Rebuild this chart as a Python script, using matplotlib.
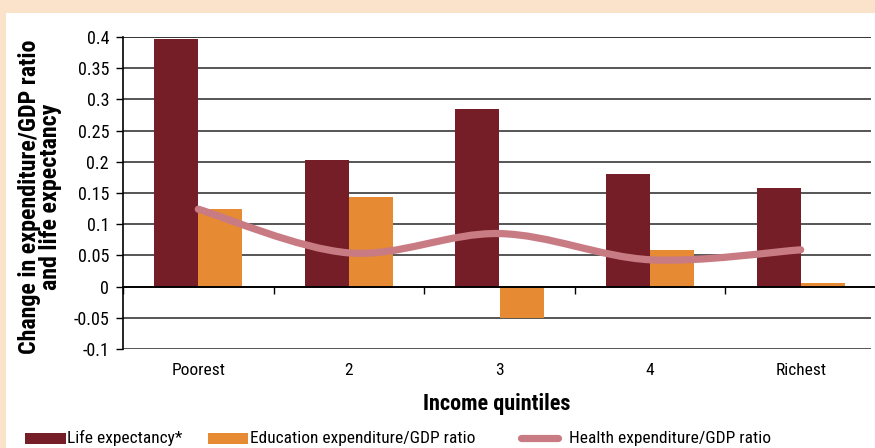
import matplotlib
matplotlib.use("Agg")
import matplotlib.pyplot as plt
import numpy as np
from matplotlib.patches import Rectangle, PathPatch
from matplotlib.path import Path
from matplotlib.lines import Line2D
from matplotlib import font_manager

# Data
categories = ["Poorest", "2", "3", "4", "Richest"]
life_expectancy = [0.397, 0.203, 0.284, 0.181, 0.158]
education_ratio = [0.125, 0.143, -0.051, 0.059, 0.005]
health_ratio = [0.124, 0.054, 0.085, 0.043, 0.059]
y_ticks = [0.4, 0.35, 0.3, 0.25, 0.2, 0.15, 0.1, 0.05, 0, -0.05, -0.1]
y_tick_labels = ["0.4", "0.35", "0.3", "0.25", "0.2", "0.15", "0.1", "0.05", "0", "-0.05", "-0.1"]
legend_labels = ["Life expectancy*", "Education expenditure/GDP ratio", "Health expenditure/GDP ratio"]

names = {f.name for f in font_manager.fontManager.ttflist}
fam = [n for n in ["Liberation Sans Narrow", "Roboto Condensed", "Liberation Sans", "DejaVu Sans"] if n in names]
plt.rcParams["font.family"] = fam

C_LIFE = "#761E28"
C_EDU = "#E68A33"
C_HEALTH = "#C97B84"
C_BG = "#FBE3CB"

W, H, DPI = 875, 448, 100
fig = plt.figure(figsize=(W / DPI, H / DPI), dpi=DPI, facecolor=C_BG)
fig.add_artist(Rectangle((6 / W, 0), 1, 1 - 13 / H, transform=fig.transFigure,
                         facecolor="white", edgecolor="none", zorder=0))

AX_L, AX_W = 123, 753
ax = fig.add_axes([AX_L / W, 1 - 349 / H, AX_W / W, (349 - 37) / H])
ax.set_facecolor("none")

x = np.arange(len(categories))
bw = 0.293
ax.bar(x - bw / 2, life_expectancy, bw, color=C_LIFE, zorder=3)
ax.bar(x + bw / 2, education_ratio, bw, color=C_EDU, zorder=3)

# Smoothed health line (Catmull-Rom style Bezier through the data points)
pts = np.column_stack([x, health_ratio]).astype(float)
verts = [tuple(pts[0])]
codes = [Path.MOVETO]
t = 1 / 6
for i in range(len(pts) - 1):
    p0 = pts[i - 1] if i > 0 else pts[i]
    p1, p2 = pts[i], pts[i + 1]
    p3 = pts[i + 2] if i + 2 < len(pts) else pts[i + 1]
    c1 = p1 + (p2 - p0) * t
    c2 = p2 - (p3 - p1) * t
    verts += [tuple(c1), tuple(c2), tuple(p2)]
    codes += [Path.CURVE4] * 3
ax.add_patch(PathPatch(Path(verts, codes), facecolor="none", edgecolor=C_HEALTH,
                       lw=5.2, capstyle="round", joinstyle="round", zorder=4))

ax.set_xlim(-0.5, len(categories) - 0.5)
ax.set_ylim(-0.1, 0.4)

# Gridlines
grid_end = (870 - AX_L) / AX_W
for yv in y_ticks:
    if yv == 0:
        continue
    ax.axhline(yv, xmax=grid_end, color="#333333" if yv == 0.4 else "#555555", lw=1.4, zorder=1)

for s in ["top", "right"]:
    ax.spines[s].set_visible(False)
ax.spines["left"].set_color("black")
ax.spines["left"].set_linewidth(1.2)
ax.spines["bottom"].set_position(("data", 0))
ax.spines["bottom"].set_color("black")
ax.spines["bottom"].set_linewidth(1.4)
ax.spines["bottom"].set_zorder(5)

ax.set_yticks(y_ticks)
ax.set_yticklabels(y_tick_labels)
ax.tick_params(axis="y", length=5, width=1, direction="out", labelsize=13, pad=5)

ax.set_xticks(x)
ax.set_xticklabels(categories)
ax.tick_params(axis="x", which="major", length=0, labelsize=12.5, pad=55)
ax.set_xticks(np.arange(len(categories)) - 0.5, minor=True)
ax.tick_params(axis="x", which="minor", length=5, width=1, direction="out")

fig.text(497 / W, 1 - 404 / H, "Income quintiles", ha="center", va="center",
         fontsize=16, fontweight="bold")
fig.text(40 / W, 1 - 197 / H, "Change in expenditure/GDP ratio\nand life expectancy",
         ha="center", va="center", rotation=90, fontsize=17.3, fontweight="bold",
         linespacing=0.88)

# Legend row
ly = 1 - 438 / H
fig.add_artist(Rectangle((25 / W, 1 - 444 / H), 41 / W, 11 / H, transform=fig.transFigure,
                         facecolor=C_LIFE, edgecolor="none"))
fig.add_artist(Rectangle((208 / W, 1 - 444 / H), 40 / W, 11 / H, transform=fig.transFigure,
                         facecolor=C_EDU, edgecolor="none"))
fig.add_artist(Line2D([521 / W, 558 / W], [ly, ly], transform=fig.transFigure,
                      color=C_HEALTH, lw=5.2, solid_capstyle="round"))
for lx, txt in zip([67, 250, 569], legend_labels):
    fig.text(lx / W, ly, txt, ha="left", va="center", fontsize=12.5)

fig.savefig("out.png", dpi=DPI, facecolor=C_BG)
